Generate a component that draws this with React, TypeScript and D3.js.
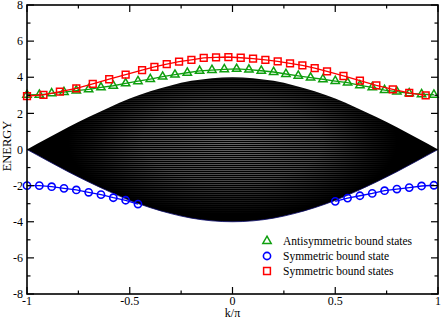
import React from 'react';
import * as d3 from 'd3';

// k grid of the bound-state points (k/pi)
const kGrid = [
  -1, -0.94, -0.88, -0.82, -0.76, -0.7, -0.64, -0.58, -0.52, -0.46, -0.4, -0.34,
  -0.28, -0.22, -0.16, -0.1, -0.04, 0.02, 0.08, 0.14, 0.2, 0.26, 0.32, 0.38,
  0.44, 0.5, 0.56, 0.62, 0.68, 0.74, 0.8, 0.86, 0.92, 0.98,
];
const antisymValues = [
  3.02, 3.03, 3.11, 3.18, 3.26, 3.33, 3.44, 3.53, 3.66, 3.78, 3.9, 4.03,
  4.14, 4.25, 4.35, 4.4, 4.44, 4.46, 4.42, 4.36, 4.29, 4.18, 4.08, 3.98,
  3.89, 3.79, 3.7, 3.55, 3.44, 3.29, 3.2, 3.11, 3.06, 3.03,
];

// symmetric (lower) bound state, two branches
const symLowK1 = [-1, -0.94, -0.88, -0.82, -0.76, -0.7, -0.64, -0.58, -0.52, -0.46];
const symLowE1 = [-2.0, -2.0, -2.06, -2.15, -2.24, -2.37, -2.5, -2.67, -2.81, -3.02];
const symLowK2 = [0.5, 0.56, 0.62, 0.68, 0.74, 0.8, 0.86, 0.92, 0.98];
const symLowE2 = [-2.87, -2.69, -2.56, -2.43, -2.28, -2.19, -2.11, -2.02, -1.98];

// symmetric (upper) bound states
const symHighK = [
  -1, -0.92, -0.84, -0.76, -0.68, -0.6, -0.52, -0.44, -0.38, -0.32, -0.26, -0.2,
  -0.14, -0.08, -0.02, 0.04, 0.1, 0.16, 0.22, 0.28, 0.34, 0.4, 0.46, 0.54,
  0.62, 0.7, 0.78, 0.86, 0.94,
];
const symHighE = [
  2.96, 3.03, 3.2, 3.39, 3.63, 3.89, 4.14, 4.4, 4.58, 4.73, 4.86, 4.96,
  5.07, 5.1, 5.12, 5.08, 5.03, 4.96, 4.88, 4.77, 4.66, 4.51, 4.33, 4.07,
  3.81, 3.55, 3.33, 3.13, 3.0,
];

// continuum band envelope
const bandK = [-1, -0.9, -0.8, -0.7, -0.6, -0.5, -0.4, -0.3, -0.2, -0.1, 0, 0.1, 0.2, 0.3, 0.4, 0.5, 0.6, 0.7, 0.8, 0.9, 1];
const bandTop = [0, 0.62, 1.23, 1.8, 2.33, 2.82, 3.22, 3.55, 3.8, 3.95, 4.0, 3.95, 3.8, 3.55, 3.22, 2.82, 2.33, 1.8, 1.23, 0.62, 0];
const bandBottom = [0, -0.62, -1.23, -1.8, -2.33, -2.82, -3.22, -3.55, -3.8, -3.95, -4.0, -3.95, -3.8, -3.55, -3.22, -2.82, -2.33, -1.8, -1.23, -0.62, 0];

const xTicks = [-1, -0.75, -0.5, -0.25, 0, 0.25, 0.5, 0.75, 1];
const xLabels = ['-1', '', '-0.5', '', '0', '', '0.5', '', '1'];
const yTicks = [-8, -7, -6, -5, -4, -3, -2, -1, 0, 1, 2, 3, 4, 5, 6, 7, 8];

const legendItems = ['Antisymmetric bound states', 'Symmetric bound state', 'Symmetric bound states'];

const GREEN = '#0f9f0f';
const BLUE = '#0000ff';
const RED = '#ff0000';
const FONT = "'Liberation Serif', 'Times New Roman', serif";

const W = 443;
const H = 320;
const left = 27, right = 438, top = 5, bottom = 294;

export default function App() {
  const x = d3.scaleLinear().domain([-1, 1]).range([left, right]);
  const y = d3.scaleLinear().domain([-8, 8]).range([bottom, top]);

  const pts = (ks: number[], es: number[]) => ks.map((k, i) => [k, es[i]] as [number, number]);
  const line = d3.line<[number, number]>().x(d => x(d[0])).y(d => y(d[1]));

  const bandData = bandK.map((k, i) => ({ k, t: bandTop[i], b: bandBottom[i] }));
  const band = d3.area<{ k: number; t: number; b: number }>()
    .x(d => x(d.k)).y0(d => y(d.b)).y1(d => y(d.t))
    .curve(d3.curveMonotoneX)(bandData) as string;
  const bandLower = d3.line<{ k: number; t: number; b: number }>()
    .x(d => x(d.k)).y(d => y(d.b)).curve(d3.curveMonotoneX)(bandData) as string;

  const tri = d3.symbol(d3.symbolTriangle, 30)() as string;
  const sq = d3.symbol(d3.symbolSquare, 46)() as string;

  const green = pts(kGrid, antisymValues);
  const red = pts(symHighK, symHighE);
  const blue1 = pts(symLowK1, symLowE1);
  const blue2 = pts(symLowK2, symLowE2);

  const legendY = [241, 256, 271];
  const txt = { fontFamily: FONT };

  return (
    <svg width={W} height={H} style={{ position: 'absolute', left: 0, top: 0, background: '#fff', fontFamily: FONT }}>
      <defs>
        <pattern id="stripes" width="4" height="2" patternUnits="userSpaceOnUse">
          <rect x="0" y="0" width="4" height="1" fill="#fff" />
        </pattern>
        <radialGradient id="glow" cx="0.5" cy="0.45" r="0.5">
          <stop offset="0" stopColor="#fff" stopOpacity="0.4" />
          <stop offset="0.55" stopColor="#fff" stopOpacity="0.28" />
          <stop offset="0.85" stopColor="#fff" stopOpacity="0.08" />
          <stop offset="1" stopColor="#fff" stopOpacity="0" />
        </radialGradient>
        <mask id="bandMask" maskContentUnits="userSpaceOnUse">
          <rect x={x(-0.8)} y={y(4)} width={x(0.8) - x(-0.8)} height={y(-4) - y(4)} fill="url(#glow)" />
        </mask>
      </defs>

      {/* continuum */}
      <path d={band} fill="#000" />
      <path d={band} fill="url(#stripes)" mask="url(#bandMask)" />
      <path d={bandLower} fill="none" stroke="#0a0a6a" strokeWidth={0.8} />

      {/* antisymmetric bound states */}
      <path d={line(green) as string} fill="none" stroke={GREEN} strokeWidth={1.3} />
      {green.map((d, i) => (
        <path key={'g' + i} d={tri} transform={`translate(${x(d[0])},${y(d[1])})`} fill="none" stroke={GREEN} strokeWidth={1.5} />
      ))}

      {/* symmetric upper */}
      <path d={line(red) as string} fill="none" stroke={RED} strokeWidth={1.3} />
      {red.map((d, i) => (
        <path key={'r' + i} d={sq} transform={`translate(${x(d[0])},${y(d[1])})`} fill="none" stroke={RED} strokeWidth={1.5} />
      ))}

      {/* symmetric lower */}
      {[blue1, blue2].map((s, j) => (
        <g key={'b' + j}>
          <path d={line(s) as string} fill="none" stroke={BLUE} strokeWidth={1.3} />
          {s.map((d, i) => (
            <circle key={i} cx={x(d[0])} cy={y(d[1])} r={3.6} fill="none" stroke={BLUE} strokeWidth={1.6} />
          ))}
        </g>
      ))}

      {/* frame */}
      <rect x={left} y={top} width={right - left} height={bottom - top} fill="none" stroke="#000" strokeWidth={1.6} />

      {/* x ticks */}
      {xTicks.map((t, i) => {
        const len = xLabels[i] !== '' ? 7 : 3.5;
        return (
          <g key={'xt' + i}>
            <line x1={x(t)} x2={x(t)} y1={bottom} y2={bottom - len} stroke="#000" strokeWidth={1.2} />
            <line x1={x(t)} x2={x(t)} y1={top} y2={top + len} stroke="#000" strokeWidth={1.2} />
            {xLabels[i] !== '' && (
              <text x={x(t)} y={305} textAnchor="middle" fontSize={12} style={txt}>{xLabels[i]}</text>
            )}
          </g>
        );
      })}

      {/* y ticks */}
      {yTicks.map((t, i) => {
        const major = t % 2 === 0;
        const len = major ? 7 : 3.5;
        return (
          <g key={'yt' + i}>
            <line x1={left} x2={left + len} y1={y(t)} y2={y(t)} stroke="#000" strokeWidth={1.2} />
            <line x1={right} x2={right - len} y1={y(t)} y2={y(t)} stroke="#000" strokeWidth={1.2} />
            {major && (
              <text x={23} y={y(t)} dy="0.35em" textAnchor="end" fontSize={12} style={txt}>{String(t)}</text>
            )}
          </g>
        );
      })}

      {/* axis titles */}
      <text x={x(0)} y={317} textAnchor="middle" fontSize={12} style={txt}>k/π</text>
      <text transform={`translate(11,${146}) rotate(-90)`} textAnchor="middle" fontSize={12.5} style={txt}>ENERGY</text>

      {/* legend */}
      <path d={tri} transform={`translate(267,${legendY[0]})`} fill="none" stroke={GREEN} strokeWidth={1.5} />
      <circle cx={267} cy={legendY[1]} r={3.6} fill="none" stroke={BLUE} strokeWidth={1.6} />
      <path d={sq} transform={`translate(267,${legendY[2]})`} fill="none" stroke={RED} strokeWidth={1.5} />
      {legendItems.map((s, i) => (
        <text key={'l' + i} x={283} y={legendY[i]} dy="0.35em" fontSize={11.5} style={txt}>{s}</text>
      ))}
    </svg>
  );
}
